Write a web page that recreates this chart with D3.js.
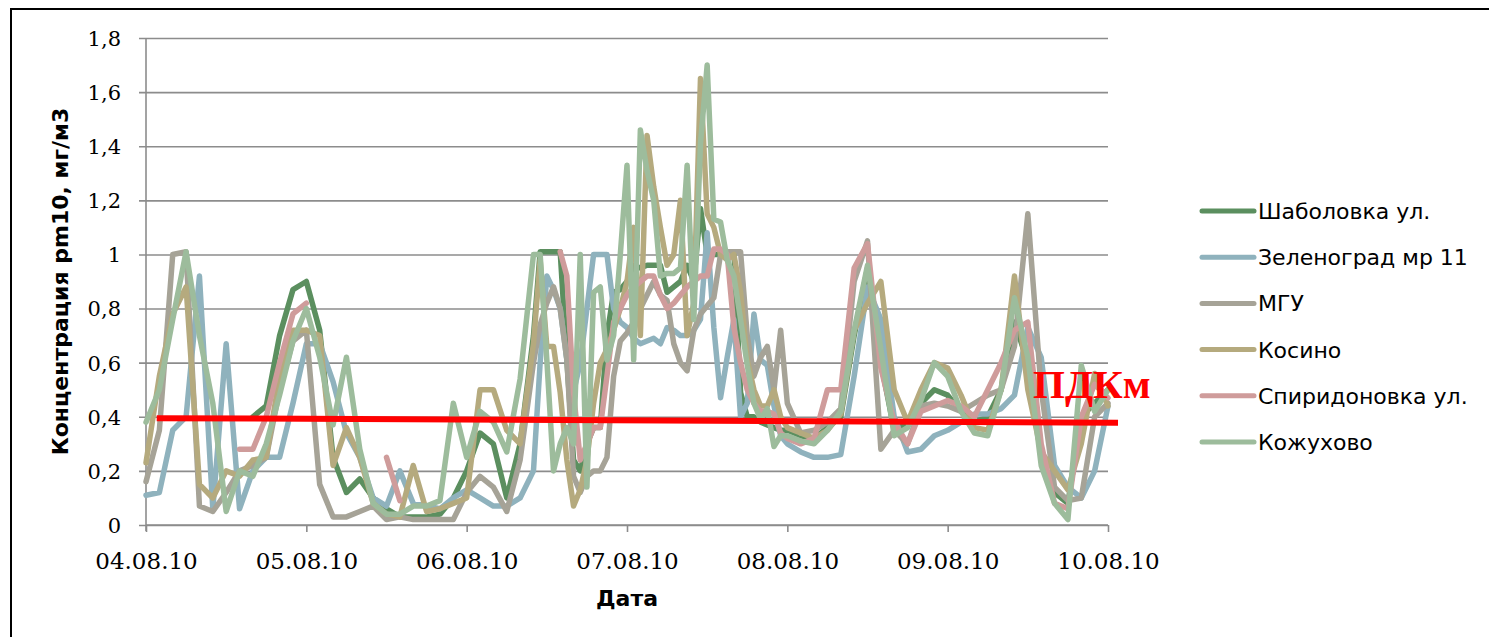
<!DOCTYPE html>
<html>
<head>
<meta charset="utf-8">
<script src="https://cdn.jsdelivr.net/npm/d3@7"></script>
<style>
  html, body { margin: 0; padding: 0; background: #fff; }
  svg { display: block; }
</style>
</head>
<body>
<svg id="chart" width="1489" height="637"></svg>
<script>
// PM10 concentration, 04.08.10 – 10.08.10.
// Hour 0 = 04.08.10 00:00; two-hour steps, hourly steps over the 06.08–07.08 episode.
const hours = d3.range(0, 57, 2).concat(d3.range(58, 97), d3.range(98, 145, 2));

const shabolovka = [null,null,null,null,null,null,null,null,0.40,0.44,0.70,0.87,0.90,0.72,0.25,0.12,0.17,0.10,0.06,0.03,0.03,0.03,0.04,0.10,0.20,0.34,0.30,0.10,0.30,
  0.70,1.01,1.01,1.01,1.01,0.61,0.24,0.20,0.30,0.36,0.36,0.70,0.86,0.87,0.90,0.96,0.95,0.96,0.96,0.96,0.86,0.88,0.90,0.96,0.90,1.17,1.00,1.00,1.00,1.01,1.01,0.49,0.40,0.40,0.38,0.37,0.36,0.35,0.35,
  0.33,0.32,0.36,0.40,0.70,0.95,0.60,0.35,0.38,0.45,0.50,0.48,0.42,0.38,0.40,0.50,0.75,0.60,0.25,0.12,0.08,0.40,0.45,0.50];
const zelenograd = [0.11,0.12,0.35,0.40,0.92,0.06,0.67,0.06,0.20,0.25,0.25,0.45,0.67,0.67,0.53,0.34,0.25,0.10,0.07,0.20,0.08,0.07,0.06,0.10,0.13,0.10,0.07,0.07,0.10,
  0.20,0.60,0.92,0.87,0.80,0.61,0.49,0.60,0.80,1.00,1.00,1.00,0.80,0.75,0.73,0.69,0.67,0.68,0.69,0.67,0.73,0.72,0.70,0.70,0.72,0.76,1.08,0.73,0.47,0.62,0.76,0.40,0.45,0.78,0.61,0.59,0.44,0.33,0.30,
  0.27,0.25,0.25,0.26,0.55,0.88,0.76,0.40,0.27,0.28,0.33,0.35,0.38,0.41,0.41,0.43,0.48,0.73,0.62,0.22,0.14,0.10,0.20,0.44];
const mgu = [0.16,0.35,1.00,1.01,0.07,0.05,0.12,0.20,0.22,0.25,0.50,0.68,0.72,0.15,0.03,0.03,0.05,0.07,0.02,0.03,0.02,0.02,0.02,0.02,0.12,0.18,0.14,0.05,0.24,
  0.60,0.74,0.82,0.88,0.80,0.61,0.18,0.12,0.18,0.20,0.20,0.25,0.55,0.68,0.71,0.75,0.80,0.85,0.90,0.85,0.83,0.67,0.60,0.57,0.72,0.78,0.81,0.84,1.00,1.01,1.01,1.01,0.70,0.55,0.62,0.66,0.50,0.72,0.45,
  0.34,0.35,0.38,0.43,0.90,1.05,0.28,0.35,0.30,0.44,0.45,0.44,0.42,0.45,0.48,0.50,0.66,1.15,0.50,0.14,0.09,0.10,0.40,0.45];
const kosino = [0.23,0.55,0.78,0.88,0.15,0.10,0.20,0.18,0.24,0.25,0.55,0.72,0.72,0.70,0.22,0.36,0.25,0.08,0.04,0.03,0.22,0.05,0.06,0.08,0.10,0.50,0.50,0.35,0.30,
  0.67,0.98,0.66,0.66,0.49,0.24,0.07,0.13,0.24,0.45,0.60,0.65,0.72,0.80,0.90,1.10,0.70,1.44,1.25,1.10,0.96,1.00,1.20,0.70,0.82,1.65,1.15,1.10,1.00,0.98,1.00,0.86,0.61,0.50,0.44,0.44,0.50,0.40,0.36,
  0.34,0.32,0.35,0.41,0.72,0.82,0.90,0.50,0.38,0.50,0.60,0.58,0.48,0.36,0.35,0.50,0.92,0.50,0.27,0.20,0.13,0.30,0.56,0.44];
const spiridonovka = [null,null,null,null,null,null,null,0.28,0.28,0.40,0.60,0.78,0.82,null,null,null,null,null,0.25,0.09,null,null,null,null,null,null,null,null,null,
  null,null,null,null,1.01,0.92,0.49,0.24,0.30,0.36,0.36,0.55,0.75,0.80,0.85,0.88,0.90,0.92,0.92,0.85,0.80,0.82,0.85,0.88,0.90,0.92,0.92,1.02,1.02,1.00,0.73,0.60,0.50,0.45,0.42,0.42,0.41,0.34,0.32,
  0.30,0.32,0.50,0.50,0.95,1.04,0.58,0.38,0.30,0.42,0.44,0.46,0.44,0.40,0.50,0.60,0.72,0.75,0.30,0.08,0.06,0.40,0.52,0.47];
const kozhukhovo = [0.38,0.50,0.76,1.01,0.70,0.45,0.05,0.20,0.18,0.30,0.48,0.68,0.80,0.62,0.37,0.62,0.28,0.08,0.04,0.04,0.07,0.07,0.09,0.45,0.25,0.42,0.38,0.27,0.54,
  1.00,1.00,0.61,0.20,0.30,0.36,0.30,1.00,0.14,0.86,0.88,0.61,0.70,1.00,1.33,0.61,1.46,1.31,1.20,0.92,0.93,0.93,0.95,1.33,0.76,1.41,1.70,1.13,1.12,0.98,0.92,0.76,0.59,0.45,0.39,0.43,0.29,0.33,0.33,
  0.31,0.30,0.35,0.42,0.72,0.96,0.65,0.33,0.36,0.46,0.60,0.55,0.42,0.34,0.33,0.50,0.84,0.62,0.22,0.08,0.02,0.59,0.42,0.50];

const seriesNames = ["Шаболовка ул.", "Зеленоград мр 11", "МГУ", "Косино", "Спиридоновка ул.", "Кожухово"];
const seriesValues = [shabolovka, zelenograd, mgu, kosino, spiridonovka, kozhukhovo];
const seriesColors = ["#5b8f5f", "#8fb2bd", "#a6a397", "#b5aa7e", "#cf9c9b", "#9dbc9c"];

// Limit line (ПДКм): start and end points
const limitHours = [1.6, 145.5];
const limitValues = [0.395, 0.378];
const limitLabel = "ПДКм";

const yTickValues = [0, 0.2, 0.4, 0.6, 0.8, 1, 1.2, 1.4, 1.6, 1.8];
const yTickLabels = ["0", "0,2", "0,4", "0,6", "0,8", "1", "1,2", "1,4", "1,6", "1,8"];
const xTickHours = [0, 24, 48, 72, 96, 120, 144];
const xTickLabels = ["04.08.10", "05.08.10", "06.08.10", "07.08.10", "08.08.10", "09.08.10", "10.08.10"];

const svg = d3.select("#chart");
const W = 1489, H = 637;
const plot = { left: 146, right: 1108, top: 38, bottom: 525 };

const x = d3.scaleLinear().domain([0, 144]).range([plot.left, plot.right]);
const y = d3.scaleLinear().domain([0, 1.8]).range([plot.bottom, plot.top]);

// outer frame (top and left edges visible)
svg.append("path")
  .attr("d", `M11,${H} L11,9 L${W},9`)
  .attr("fill", "none").attr("stroke", "#000").attr("stroke-width", 2);

const gridColor = "#8c8c8c";
const tickFont = "'DejaVu Serif', serif";
const sansFont = "'DejaVu Sans', Verdana, sans-serif";

// horizontal gridlines + y axis
const yAxis = d3.axisLeft(y)
  .tickValues(yTickValues)
  .tickFormat((d, i) => yTickLabels[i])
  .tickSize(-(plot.right - plot.left))
  .tickPadding(25);
const gy = svg.append("g").attr("transform", `translate(${plot.left},0)`).call(yAxis);
gy.select(".domain").remove();
gy.selectAll(".tick line")
  .attr("stroke", gridColor).attr("stroke-width", 1.6)
  .attr("x1", -7);
gy.selectAll(".tick text")
  .attr("font-family", tickFont).attr("font-size", 21)
  .attr("fill", "#000").attr("dy", "0.35em");

// vertical axis line
svg.append("line")
  .attr("x1", plot.left).attr("x2", plot.left)
  .attr("y1", plot.top).attr("y2", plot.bottom + 6)
  .attr("stroke", gridColor).attr("stroke-width", 1.6);

// x axis
const xAxis = d3.axisBottom(x)
  .tickValues(xTickHours)
  .tickFormat((d, i) => xTickLabels[i])
  .tickSize(7)
  .tickPadding(21);
const gx = svg.append("g").attr("transform", `translate(0,${plot.bottom})`).call(xAxis);
gx.select(".domain").attr("stroke", gridColor).attr("stroke-width", 1.6)
  .attr("d", `M${plot.left},0H${plot.right}`);
gx.selectAll(".tick line").attr("stroke", gridColor).attr("stroke-width", 1.6);
gx.selectAll(".tick text")
  .attr("font-family", tickFont).attr("font-size", 23).attr("fill", "#000");

// axis titles
svg.append("text")
  .attr("transform", `translate(68,${(plot.top + plot.bottom) / 2}) rotate(-90)`)
  .attr("text-anchor", "middle")
  .attr("font-family", sansFont).attr("font-weight", "bold").attr("font-size", 22)
  .text("Концентрация pm10, мг/м3");
svg.append("text")
  .attr("x", (plot.left + plot.right) / 2).attr("y", 606)
  .attr("text-anchor", "middle")
  .attr("font-family", sansFont).attr("font-weight", "bold").attr("font-size", 22)
  .text("Дата");

// series lines
const line = d3.line()
  .defined(d => d.v != null)
  .x(d => x(d.h))
  .y(d => y(d.v))
  .curve(d3.curveLinear);

const linesG = svg.append("g");
seriesValues.forEach((vals, k) => {
  const pts = hours.map((h, i) => ({ h, v: vals[i] }));
  linesG.append("path")
    .datum(pts)
    .attr("d", line)
    .attr("fill", "none")
    .attr("stroke", seriesColors[k])
    .attr("stroke-width", 5.5)
    .attr("stroke-linejoin", "round")
    .attr("stroke-linecap", "round");
});

// limit line
const limitPts = limitHours.map((h, i) => ({ h, v: limitValues[i] }));
svg.append("path")
  .datum(limitPts)
  .attr("d", d3.line().x(d => x(d.h)).y(d => y(d.v)))
  .attr("stroke", "#ff0000").attr("stroke-width", 6).attr("fill", "none");
svg.append("text")
  .attr("x", 1033).attr("y", 398)
  .attr("font-family", "'Liberation Serif', 'Times New Roman', serif")
  .attr("font-weight", "bold").attr("font-size", 41)
  .attr("fill", "#ff0000")
  .text(limitLabel);

// legend
const legend = svg.append("g").attr("transform", "translate(1200,211)");
seriesNames.forEach((name, k) => {
  const g = legend.append("g").attr("transform", `translate(0,${k * 46.2})`);
  g.append("line")
    .attr("x1", 2).attr("x2", 54).attr("y1", 0).attr("y2", 0)
    .attr("stroke", seriesColors[k]).attr("stroke-width", 5)
    .attr("stroke-linecap", "round");
  g.append("text")
    .attr("x", 58).attr("y", 0).attr("dy", "0.36em")
    .attr("font-family", sansFont).attr("font-size", 22)
    .attr("fill", "#000")
    .text(name);
});
</script>
</body>
</html>
